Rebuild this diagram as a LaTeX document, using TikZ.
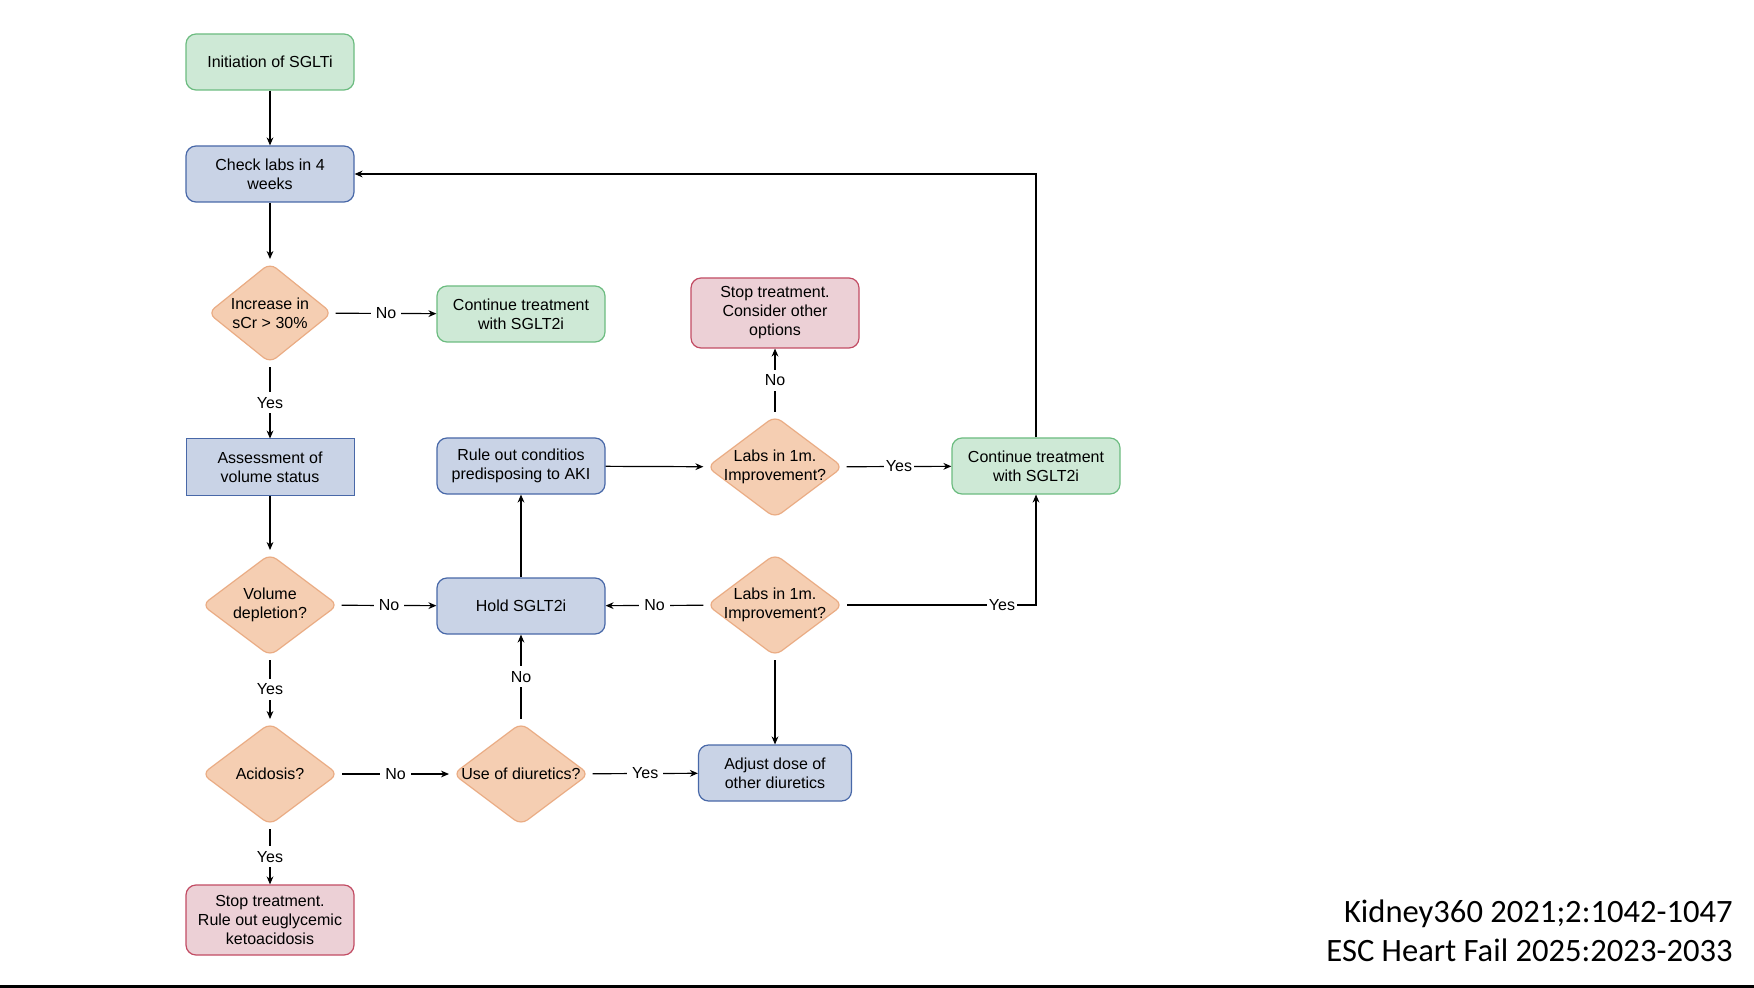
\documentclass[tikz,border=0pt]{standalone}
\usepackage{fontspec}
\setmainfont{Liberation Sans}
\newfontfamily\citefont{Carlito}
\usepackage{xcolor}
\usetikzlibrary{shapes,arrows.meta,positioning,calc}

\definecolor{greenfill}{RGB}{206,233,214}
\definecolor{greendraw}{RGB}{108,188,128}
\definecolor{bluefill}{RGB}{201,211,230}
\definecolor{bluedraw}{RGB}{72,104,168}
\definecolor{orangefill}{RGB}{245,206,178}
\definecolor{orangedraw}{RGB}{234,172,132}
\definecolor{redfill}{RGB}{236,208,214}
\definecolor{reddraw}{RGB}{194,76,100}

\tikzset{
  flow/.style={line width=0.6pt, ->, >={Stealth[length=4pt,width=3.4pt]}},
  box/.style={draw, line width=0.6pt, rounded corners=5pt, minimum width=84pt,
    minimum height=28pt, align=center, inner sep=2pt},
  gobox/.style={box, fill=greenfill, draw=greendraw},
  labbox/.style={box, fill=bluefill, draw=bluedraw},
  stopbox/.style={box, fill=redfill, draw=reddraw, minimum height=35pt},
  decision/.style={diamond, draw=orangedraw, fill=orangefill, line width=0.6pt,
    rounded corners=4pt, inner sep=0pt, outer sep=1.5pt,
    minimum width=69pt, minimum height=52pt},
  edgelabel/.style={fill=white, inner sep=2.5pt}
}

\begin{document}
\begin{tikzpicture}[x=0.5pt, y=-0.5pt, font=\fontsize{8}{9.5}\selectfont]
    \useasboundingbox (0,0) rectangle (1754,988);

    % left column
    \node[gobox] (init) at (270,62) {Initiation of SGLTi};
    \node[labbox] (check) at (270,174) {Check labs in 4\\weeks};
    \node[decision, minimum width=63pt, minimum height=51pt,
      label={[align=center]center:Increase in\\sCr > 30\%}] (scr) at (270,313) {};
    \node[labbox, rounded corners=0pt, line width=0.5pt] (assess) at (270,467) {Assessment of\\volume status};
    \node[decision, label={[align=center]center:Volume\\depletion?}] (vol) at (270,605) {};
    \node[decision, label={center:Acidosis?}] (acid) at (270,774) {};
    \node[stopbox] (stopketo) at (270,920) {Stop treatment.\\Rule out euglycemic\\ketoacidosis};

    % middle column
    \node[gobox] (contA) at (521,314) {Continue treatment\\with SGLT2i};
    \node[labbox] (ruleout) at (521,466) {Rule out conditios\\predisposing to AKI};
    \node[labbox] (hold) at (521,606) {Hold SGLT2i};
    \node[decision, label={center:Use of diuretics?}] (diur) at (521,774) {};

    % right column
    \node[stopbox] (stopother) at (775,313) {Stop treatment.\\Consider other\\options};
    \node[decision, label={[align=center]center:Labs in 1m.\\Improvement?}] (labsA) at (775,467) {};
    \node[decision, label={[align=center]center:Labs in 1m.\\Improvement?}] (labsB) at (775,605) {};
    \node[labbox, minimum width=76.5pt] (adjust) at (775,773) {Adjust dose of\\other diuretics};
    \node[gobox] (contB) at (1036,466) {Continue treatment\\with SGLT2i};

    % connectors
    \draw[flow] (init) -- (check);
    \draw[flow] (check) -- (scr);
    \draw[flow] (scr) -- node[edgelabel] {No} (contA);
    \draw[flow] (scr) -- node[edgelabel] {Yes} (assess);
    \draw[flow] (assess) -- (vol);
    \draw[flow] (vol) -- node[edgelabel] {No} (hold);
    \draw[flow] (vol) -- node[edgelabel] {Yes} (acid);
    \draw[flow] (acid) -- node[edgelabel] {No} (diur);
    \draw[flow] (acid) -- node[edgelabel] {Yes} (stopketo);
    \draw[flow] (diur) -- node[edgelabel] {No} (hold);
    \draw[flow] (diur) -- node[edgelabel] {Yes} (adjust);
    \draw[flow] (hold) -- (ruleout);
    \draw[flow] (ruleout) -- (labsA);
    \draw[flow] (labsA) -- node[edgelabel] {No} (stopother);
    \draw[flow] (labsA) -- node[edgelabel, inner sep=1pt] {Yes} (contB);
    \draw[flow] (labsB) -- node[edgelabel] {No} (hold);
    \draw[flow] (labsB) -- (adjust);
    \draw[flow] (labsB.east) -| node[edgelabel, inner sep=1pt, pos=0.41] {Yes} (contB.south);
    \draw[flow] (contB.north) |- (check.east);

    % reference and bottom rule
    \node[anchor=east, align=right, inner sep=0pt, font=\citefont\fontsize{16.3}{19.5}\selectfont]
      (cite) at (1733,931) {Kidney360 2021;2:1042-1047\\ESC Heart Fail 2025:2023-2033};
    \fill[black] (0,985) rectangle (1754,988);
\end{tikzpicture}
\end{document}
